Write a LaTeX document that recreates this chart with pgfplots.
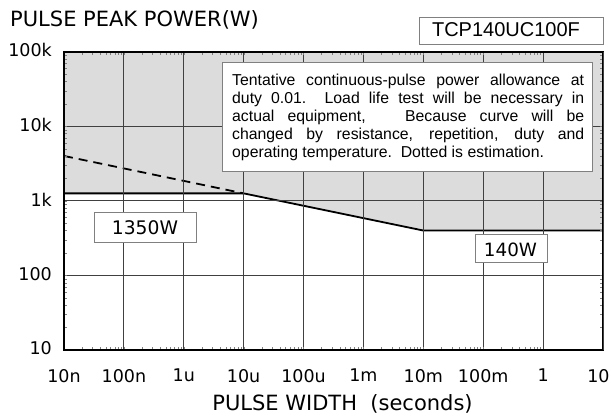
\documentclass[border=0pt]{standalone}
\usepackage{fontspec}
\setmainfont{Liberation Sans}
\newfontfamily\dejavu{DejaVu Sans}
\usepackage{pgfplots}
\pgfplotsset{compat=1.18}
\definecolor{fillgray}{RGB}{220,220,220}
\definecolor{boxgray}{RGB}{128,128,128}
\begin{document}
\begin{tikzpicture}
\begin{axis}[
  at={(0,0)}, anchor=south west,
  scale only axis, width=539pt, height=298.3pt,
  xmode=log, ymode=log,
  xmin=1e-8, xmax=10, ymin=10, ymax=1e5,
  xtick={1e-8,1e-7,1e-6,1e-5,1e-4,1e-3,1e-2,1e-1,1},
  xticklabels={10n,100n,1u,10u,100u,1m,10m,100m,1},
  extra x ticks={10},
  extra x tick labels={10},
  extra x tick style={xticklabel style={xshift=-4.5pt}},
  ytick={10,100,1000,10000,100000},
  yticklabels={10,100,1k,10k,100k},
  minor xtick={}, minor ytick={},
  major tick length=0pt,
  grid=major,
  major grid style={draw=black!75, line width=0.9pt},
  axis line style={line width=1.6pt},
  axis on top,
  tick label style={font=\dejavu\fontsize{17.5}{20}\selectfont, inner sep=0pt},
  xticklabel style={anchor=north, yshift=-19pt},
  yticklabel style={anchor=east, xshift=-12pt, yshift=1.5pt},
  clip=false,
]
\addplot[fill=fillgray, draw=none] coordinates {(1e-8,1e5) (1e-8,1260) (1e-5,1260) (1e-2,400) (10,400) (10,1e5)};
\addplot[black, line width=1.8pt] coordinates {(1e-8,1260) (1e-5,1260) (1e-2,400) (10,400)};
\addplot[black, line width=1.8pt, dash pattern=on 9pt off 6pt] coordinates {(1e-8,4000) (1e-5,1260)};
\end{axis}
% title
\node[anchor=base west, inner sep=0pt, font=\dejavu\fontsize{21}{24}\selectfont] at (-54pt,323.3pt) {PULSE PEAK POWER(W)};
% x label
\node[anchor=base, inner sep=0pt, font=\dejavu\fontsize{21}{24}\selectfont] at (278.5pt,-60pt) {PULSE WIDTH\ \ (seconds)};
% model box
\draw[boxgray, fill=white, line width=0.8pt] (355pt,306pt) rectangle (539pt,333pt);
\node[anchor=base, inner sep=0pt, font=\fontsize{20}{24}\selectfont] at (442pt,313pt) {TCP140UC100F};
% note box
\draw[boxgray, fill=white, line width=0.8pt] (158pt,179pt) rectangle (528pt,288pt);
\node[anchor=base west, inner sep=0pt, text width=352pt, align=justify,
  font=\fontsize{15.8}{18.2}\selectfont] at (168pt,265pt)
 {\hyphenpenalty=10000\tolerance=9999\emergencystretch=20pt
  Tentative continuous-pulse power allowance at\linebreak
  duty 0.01.\ \ Load life test will be necessary in\linebreak
  actual equipment,\ \ \ Because curve will be\linebreak
  changed by resistance, repetition, duty and\linebreak
  operating temperature.\ \ Dotted is estimation.};
% 1350W
\draw[boxgray, fill=white, line width=0.8pt] (30pt,108pt) rectangle (132pt,138pt);
\node[anchor=base, inner sep=0pt, font=\dejavu\fontsize{18.7}{22}\selectfont] at (81pt,116pt) {1350W};
% 140W
\draw[boxgray, fill=white, line width=0.8pt] (411pt,88pt) rectangle (483pt,116pt);
\node[anchor=base, inner sep=0pt, font=\dejavu\fontsize{18.3}{22}\selectfont] at (446.5pt,93.3pt) {140W};
\pgfresetboundingbox
\path[use as bounding box] (-64pt,-66pt) rectangle (547pt,350pt);
\end{tikzpicture}
\end{document}
